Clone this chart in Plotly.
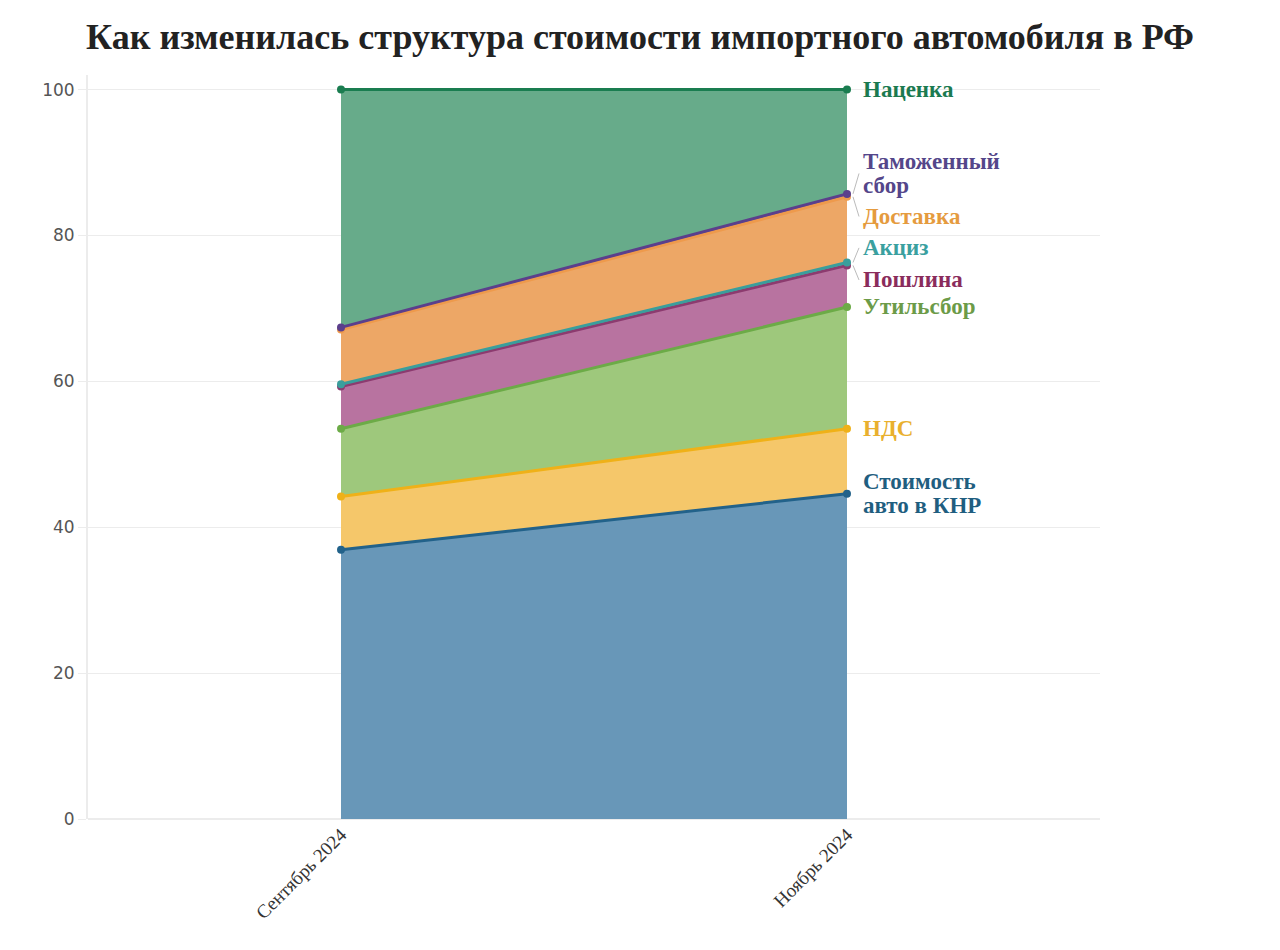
import plotly.graph_objects as go

periods = ["Сентябрь 2024", "Ноябрь 2024"]
series_names = ["Стоимость авто в КНР", "НДС", "Утильсбор", "Пошлина", "Акциз",
                "Доставка", "Таможенный сбор", "Наценка"]
label_lines = [["Стоимость", "авто в КНР"], ["НДС"], ["Утильсбор"], ["Пошлина"], ["Акциз"],
               ["Доставка"], ["Таможенный", "сбор"], ["Наценка"]]
cost_china = [36.9, 44.6]
vat = [7.3, 8.9]
util_fee = [9.3, 16.7]
duty = [5.8, 5.7]
excise = [0.3, 0.4]
delivery = [7.5, 9.0]
customs_fee = [0.3, 0.4]
markup = [32.6, 14.3]
values = [cost_china, vat, util_fee, duty, excise, delivery, customs_fee, markup]
# label vertical positions (in y units) for the right-hand labels
label_y = [44.6, 53.5, 70.2, 73.9, 78.3, 82.6, 88.5, 100.0]

line_colors = ["#22628a", "#efb118", "#6cab47", "#8c3b6f", "#3a9e9c",
               "#ee9a4c", "#5b3f8c", "#1a7d50"]
fill_colors = ["rgba(104,151,184,1)", "rgba(245,199,106,1)", "rgba(158,200,124,1)",
               "rgba(184,115,160,1)", "rgba(110,170,170,1)", "rgba(237,167,102,1)",
               "rgba(120,100,160,1)", "rgba(103,171,138,1)"]
label_colors = ["#1f5e80", "#e9b02e", "#6c9b48", "#8a2c5c", "#3aa09f",
                "#e59b3e", "#54468a", "#1b7a50"]

fig = go.Figure()
for name, vals, lc, fc in zip(series_names, values, line_colors, fill_colors):
    fig.add_trace(go.Scatter(
        x=periods, y=vals, name=name, stackgroup="one", mode="lines+markers",
        line=dict(color=lc, width=3), marker=dict(color=lc, size=8),
        fillcolor=fc, showlegend=False))

annotations = []
shapes = []
cum = 0.0
line_gap = 24
for lines, vals, ly, col in zip(label_lines, values, label_y, label_colors):
    cum += vals[1]
    n = len(lines)
    for i, txt in enumerate(lines):
        annotations.append(dict(
            x=periods[1], y=ly, xref="x", yref="y", text="<b>" + txt + "</b>",
            showarrow=False, xanchor="left", yanchor="middle", xshift=14,
            yshift=((n - 1) / 2 - i) * line_gap, align="left",
            font=dict(family="Liberation Serif", size=23, color=col)))
    if abs(ly - cum) > 0.5:
        shapes.append(dict(
            type="line", xref="x", yref="y", xsizemode="pixel", xanchor=periods[1],
            x0=6, x1=12, y0=cum, y1=ly, line=dict(color="#bbbbbb", width=1)))

fig.update_layout(
    width=1280, height=950,
    paper_bgcolor="white", plot_bgcolor="white",
    margin=dict(l=88, r=180, t=75, b=131),
    title=dict(text="<b>Как изменилась структура стоимости импортного автомобиля в РФ</b>",
               x=0.5, xanchor="center", y=0.962, yanchor="middle",
               font=dict(family="Liberation Serif", size=36, color="#222222")),
    annotations=annotations, shapes=shapes,
    xaxis=dict(type="category", range=[-0.5, 1.5], showgrid=False,
               tickangle=-45, ticks="", showline=False, zeroline=False,
               tickfont=dict(family="Liberation Serif", size=19, color="#333333")),
    yaxis=dict(range=[0, 102], tickvals=[0, 20, 40, 60, 80, 100],
               showgrid=True, gridcolor="#ececec", gridwidth=1,
               zeroline=True, zerolinecolor="#ececec", zerolinewidth=2,
               showline=True, linecolor="#ececec", linewidth=2,
               ticks="outside", ticklen=8, tickcolor="#ececec",
               tickfont=dict(family="DejaVu Sans", size=17, color="#555555")),
)

fig.write_html("out.html")
